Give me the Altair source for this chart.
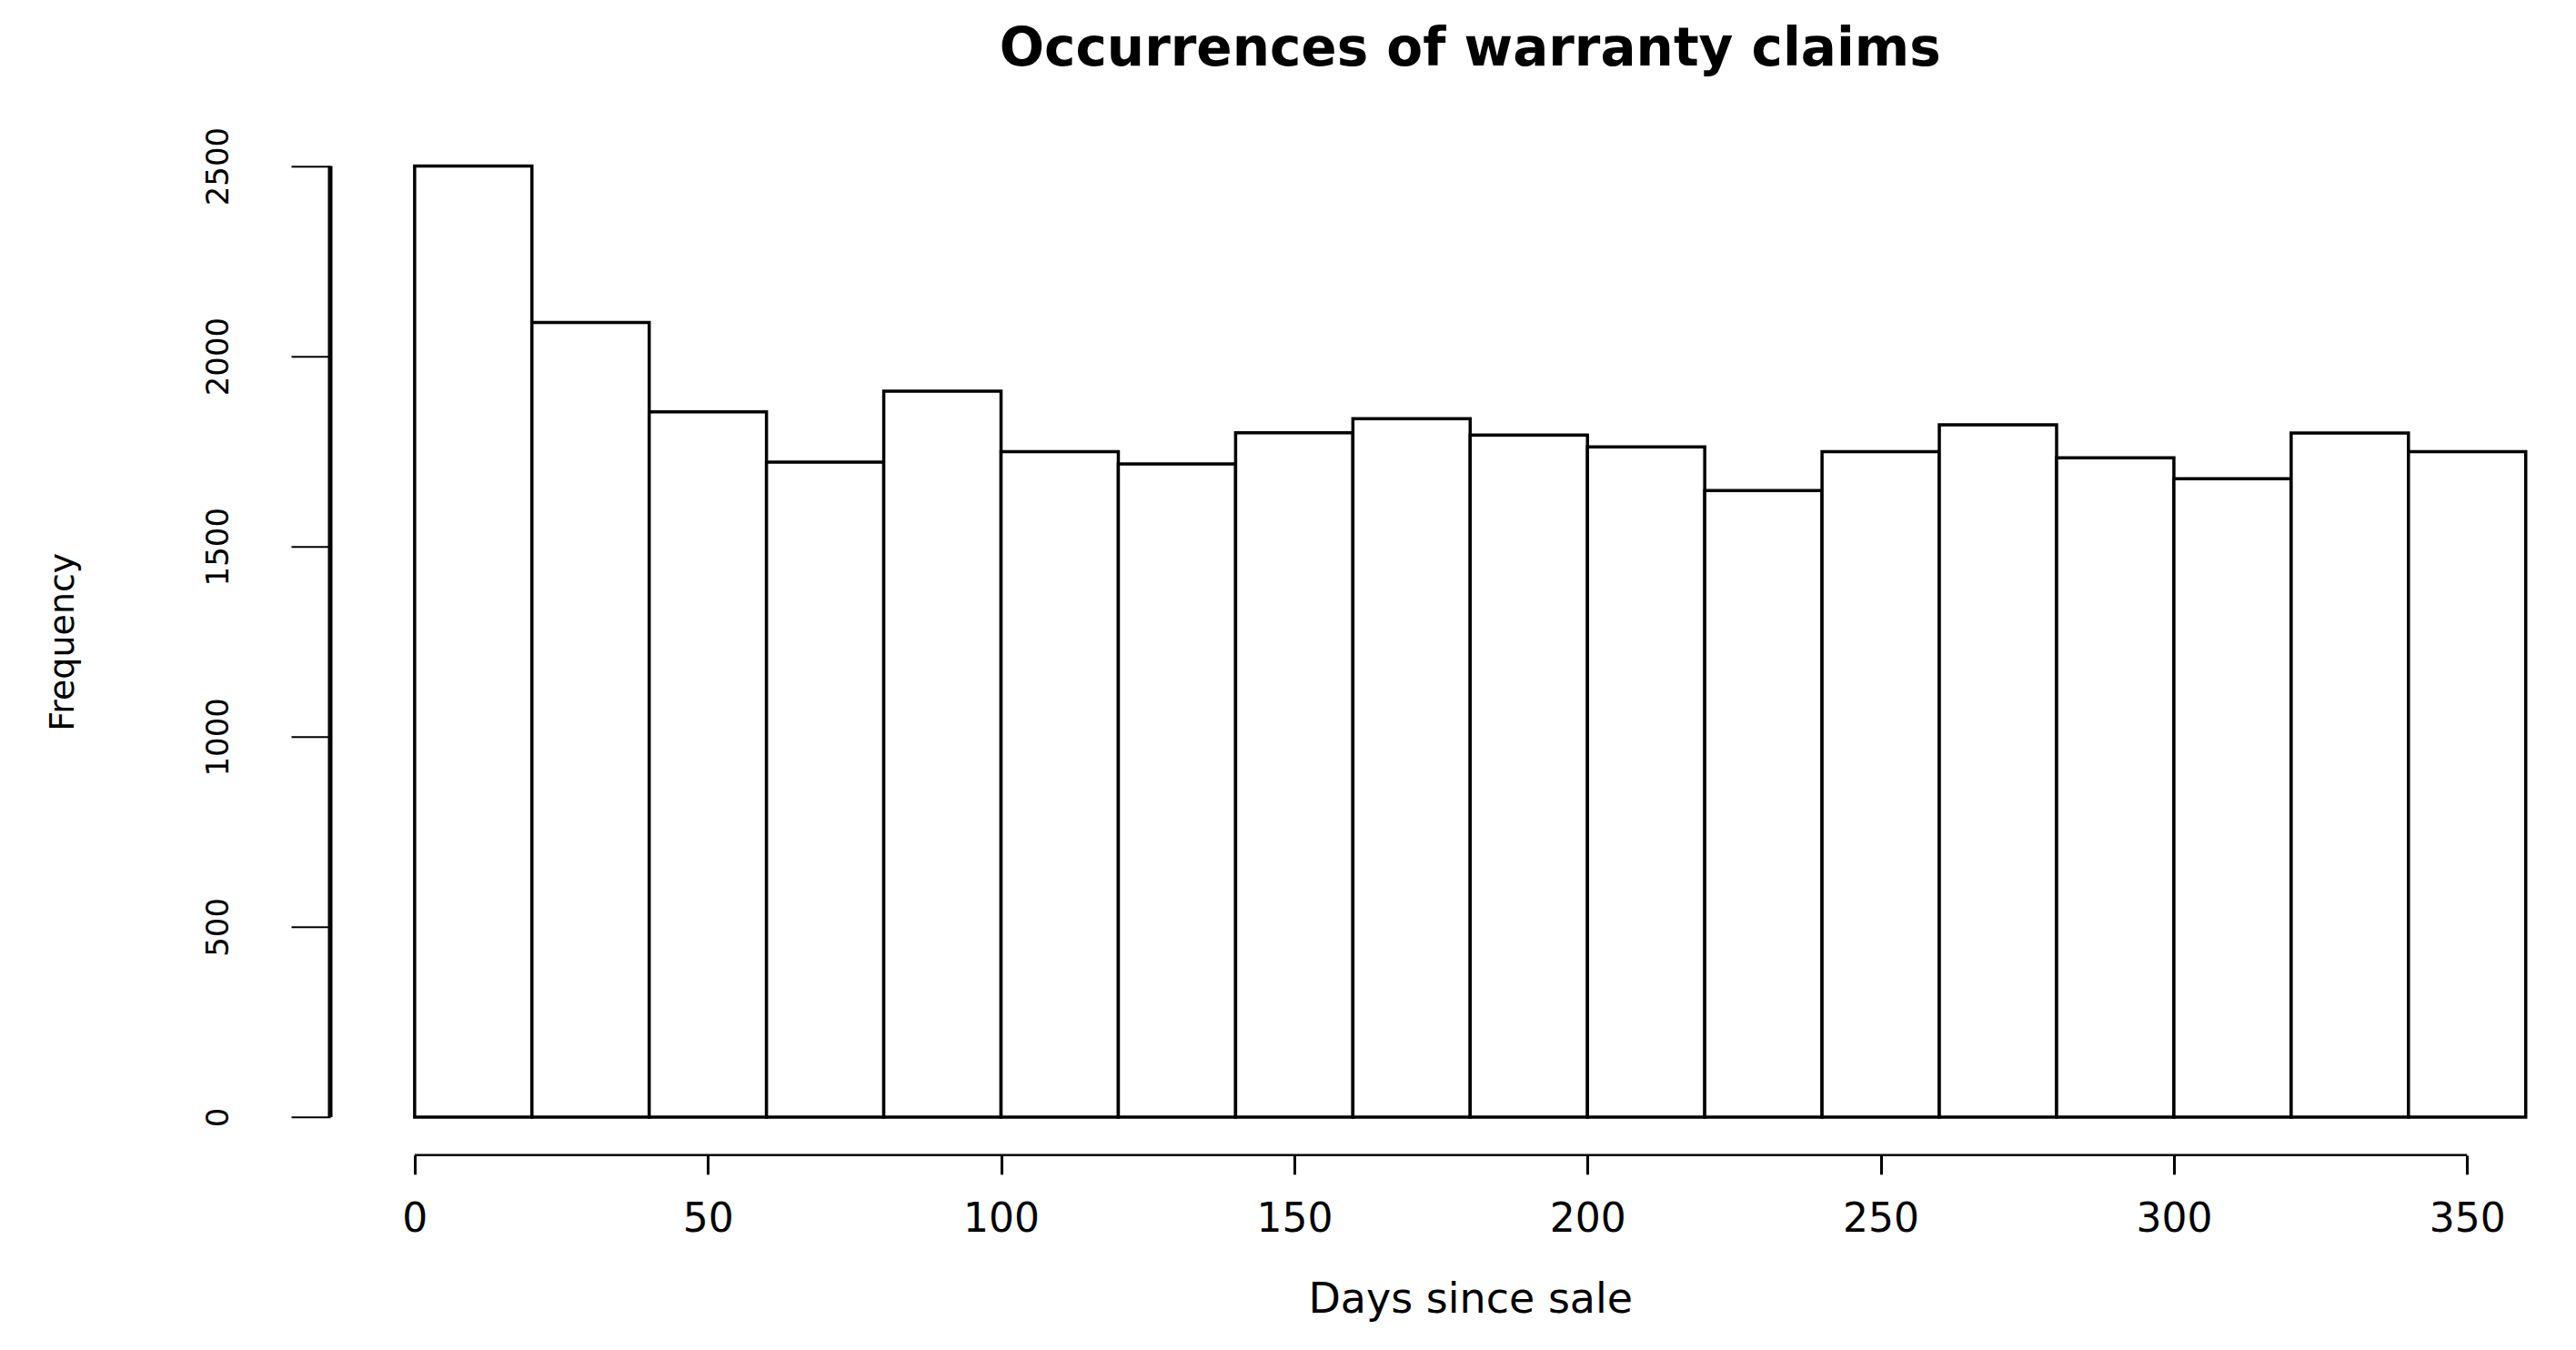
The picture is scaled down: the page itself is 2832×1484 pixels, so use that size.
import altair as alt
import pandas as pd

# ---- data ----
bin_starts = [0, 20, 40, 60, 80, 100, 120, 140, 160, 180, 200, 220, 240, 260, 280, 300, 320, 340]
bin_ends = [20, 40, 60, 80, 100, 120, 140, 160, 180, 200, 220, 240, 260, 280, 300, 320, 340, 360]
counts = [2500, 2089, 1854, 1722, 1908, 1749, 1717, 1799, 1836, 1793, 1762, 1647, 1749, 1820, 1733, 1678, 1798, 1749]
x_ticks = [0, 50, 100, 150, 200, 250, 300, 350]
y_ticks = [0, 500, 1000, 1500, 2000, 2500]

title_text = "Occurrences of warranty claims"
x_title = "Days since sale"
y_title = "Frequency"

# ---- layout ----
XMIN, XMAX = -14.4, 364.0
YMIN, YMAX = -100.0, 2600.0
PX_DAY = 6.447
PX_CNT = 0.4182
WIDTH = (XMAX - XMIN) * PX_DAY
HEIGHT = (YMAX - YMIN) * PX_CNT
FONT = "DejaVu Sans"

bars = pd.DataFrame({"start": bin_starts, "end": bin_ends, "count": counts})
xline = pd.DataFrame({"x0": [min(x_ticks)], "x1": [max(x_ticks)]})
yline = pd.DataFrame({"y0": [min(y_ticks)], "y1": [max(y_ticks)]})

xscale = alt.Scale(domain=[XMIN, XMAX], nice=False, zero=False)
yscale = alt.Scale(domain=[YMIN, YMAX], nice=False, zero=False)

x_axis = alt.Axis(
    values=x_ticks, format="d", domain=False, grid=False,
    tickSize=21, tickWidth=3, tickColor="black",
    labelFont=FONT, labelFontSize=44, labelColor="black",
    labelBaseline="alphabetic", labelPadding=63,
    labelFlush=False, labelOverlap=False,
    title=x_title, titleFont=FONT, titleFontSize=46, titleFontWeight="normal",
    titleColor="black", titleAlign="center", titleBaseline="alphabetic",
    titleX=PX_DAY * (180 - XMIN), titleY=173,
)
y_axis = alt.Axis(
    values=y_ticks, format="d", domain=False, grid=False,
    tickSize=43, tickWidth=2, tickColor="black",
    labelFont=FONT, labelFontSize=34, labelColor="black",
    labelAngle=270, labelAlign="center", labelBaseline="alphabetic",
    labelPadding=70, labelFlush=False, labelOverlap=False,
    title=y_title, titleFont=FONT, titleFontSize=38, titleFontWeight="normal",
    titleColor="black", titleAngle=270, titleAlign="center",
    titleBaseline="alphabetic", titleX=-283, titleY=(YMAX - 1250) * PX_CNT,
)

hist = alt.Chart(bars).mark_rect(fill="white", stroke="black", strokeWidth=3.5).encode(
    x=alt.X("start:Q", scale=xscale, axis=x_axis),
    x2="end:Q",
    y=alt.Y("count:Q", scale=yscale, axis=y_axis),
    y2=alt.datum(0),
)

x_dom = alt.Chart(xline).mark_rule(color="black", strokeWidth=2.5).encode(
    x=alt.X("x0:Q", scale=xscale), x2="x1:Q", y=alt.value(HEIGHT)
)
y_dom = alt.Chart(yline).mark_rule(color="black", strokeWidth=5).encode(
    y=alt.Y("y0:Q", scale=yscale), y2="y1:Q", x=alt.value(0)
)

chart = (
    alt.layer(hist, x_dom, y_dom)
    .properties(
        width=WIDTH,
        height=HEIGHT,
        background="white",
        title=alt.TitleParams(
            text=title_text, font=FONT, fontSize=58, fontWeight="bold", color="black",
            anchor="middle", frame="group", baseline="alphabetic", offset=9,
            dx=PX_DAY * (180 - XMIN) - WIDTH / 2,
        ),
        autosize=alt.AutoSizeParams(type="none"),
        padding={"left": 355, "top": 132.7, "right": 10, "bottom": 190},
    )
    .configure_view(stroke="transparent", strokeWidth=0)
)

chart.save("out.html", embed_options={"renderer": "svg", "actions": False})
